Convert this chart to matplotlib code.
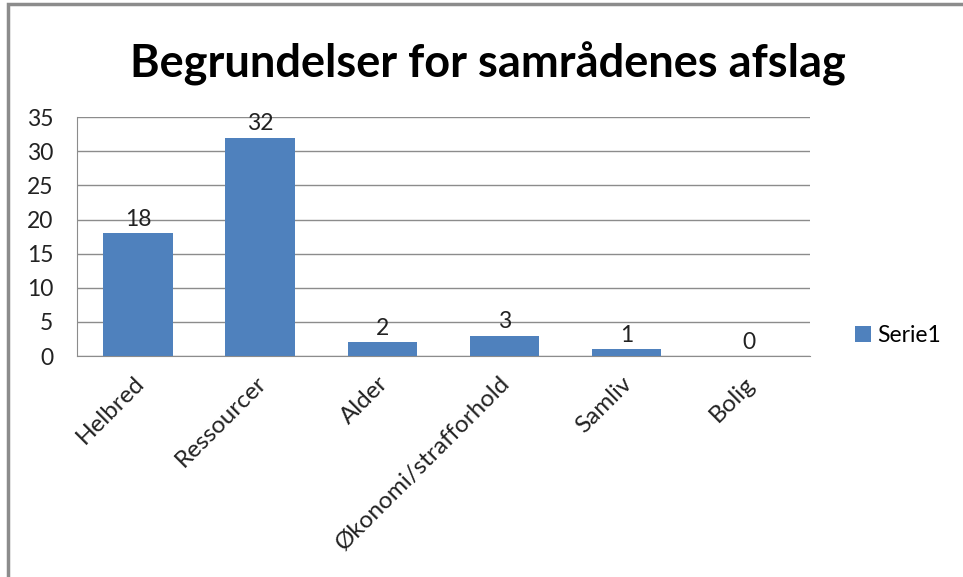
import matplotlib.pyplot as plt
import matplotlib.transforms as mtransforms
from matplotlib.patches import Rectangle

categories = ["Helbred", "Ressourcer", "Alder", "Økonomi/strafforhold", "Samliv", "Bolig"]
values = [18, 32, 2, 3, 1, 0]
series_name = "Serie1"
title = "Begrundelser for samrådenes afslag"

plt.rcParams['font.family'] = ['Lato', 'DejaVu Sans']

fig = plt.figure(figsize=(9.63, 5.77), dpi=100)
ax = fig.add_axes([0.08, 0.383, 0.761, 0.414])

bar_color = "#4F81BD"
x = range(len(categories))
ax.bar(x, values, width=0.57, color=bar_color, label=series_name, zorder=3)

for xi, v in zip(x, values):
    ax.text(xi, v + 0.5, str(v), ha="center", va="bottom", fontsize=16.5, color="#222222")

ax.set_xlim(-0.5, len(categories) - 0.5)
ax.set_ylim(0, 35)
ax.set_yticks(range(0, 36, 5))
ax.set_xticks(list(x))
ax.set_xticklabels(categories, rotation=45, ha="right", rotation_mode="anchor", fontsize=17.5)
ax.tick_params(axis="y", length=0, labelsize=16.5, colors="#222222", pad=17)
ax.tick_params(axis="x", length=0, colors="#222222", pad=12)
shift = mtransforms.ScaledTranslation(-5 / 100, 0, fig.dpi_scale_trans)
for lbl in ax.get_xticklabels():
    lbl.set_transform(lbl.get_transform() + shift)
ax.grid(axis="y", color="#8c8c8c", linewidth=1, zorder=0)
for s in ["top", "right"]:
    ax.spines[s].set_visible(False)
for s in ["left", "bottom"]:
    ax.spines[s].set_color("#8c8c8c")

fig.text(488 / 963, 1 - 77 / 577, title, fontsize=32.5, fontweight="bold",
         ha="center", va="baseline")

fig.legend(loc="center left", bbox_to_anchor=(0.866, 0.418), frameon=False,
           fontsize=16.5, handlelength=0.7, handleheight=0.7, handletextpad=0.3)

# outer chart border (left and top edges visible)
fig.patches.append(Rectangle((8 / 963, -0.1), 1.2, 1 - 4 / 577 + 0.1,
                             transform=fig.transFigure, fill=False,
                             edgecolor="#8c8c8c", linewidth=2.5))

fig.savefig("out.png", dpi=100)
